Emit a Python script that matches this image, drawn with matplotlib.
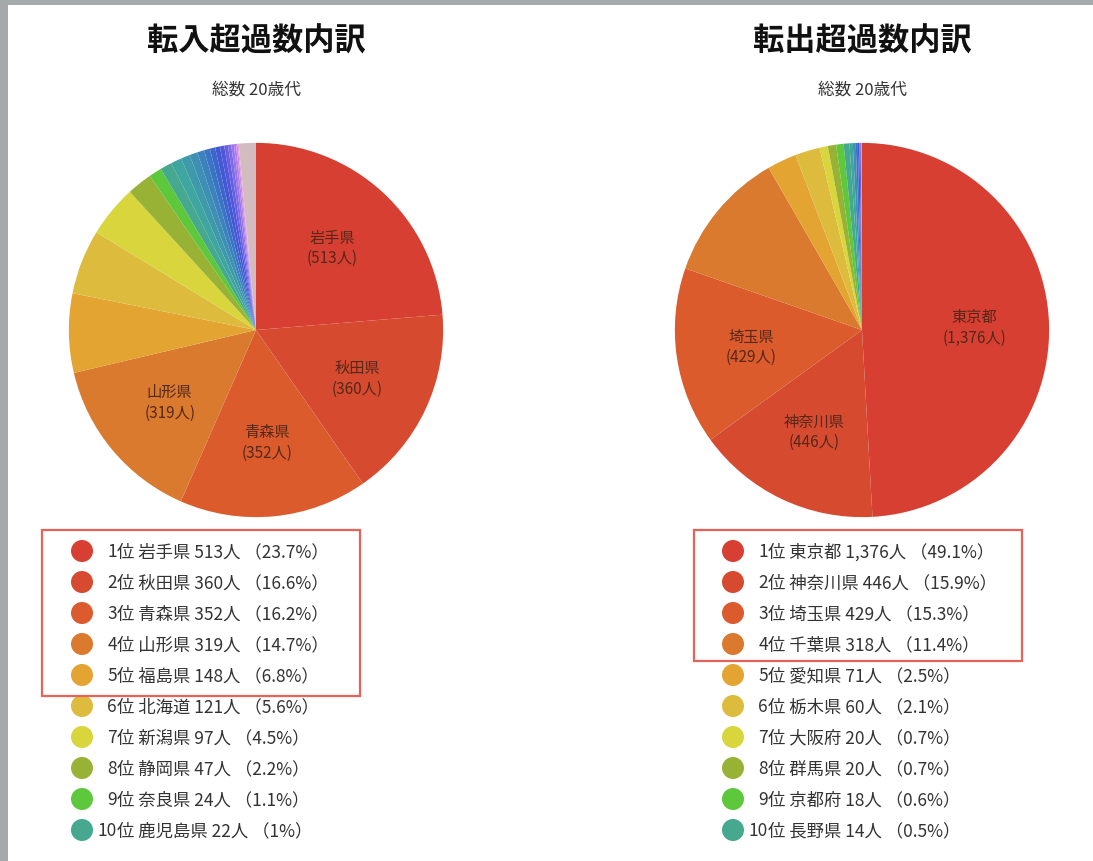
import matplotlib
matplotlib.use("Agg")
import matplotlib.pyplot as plt
from matplotlib.patches import Circle, Rectangle

plt.rcParams['font.family'] = ['Noto Sans CJK JP', 'DejaVu Sans']

W, H = 1093, 862

# 転入超過 (left)
in_names = ['岩手県', '秋田県', '青森県', '山形県', '福島県', '北海道', '新潟県', '静岡県', '奈良県', '鹿児島県']
in_values = [513, 360, 352, 319, 148, 121, 97, 47, 24, 22]
in_pcts = ['23.7%', '16.6%', '16.2%', '14.7%', '6.8%', '5.6%', '4.5%', '2.2%', '1.1%', '1%']
# smaller prefectures after 10th + grey remainder
in_rest = [20, 17, 15, 13, 11, 10, 9, 8, 7, 6, 5, 4, 3, 2, 32]

# 転出超過 (right)
out_names = ['東京都', '神奈川県', '埼玉県', '千葉県', '愛知県', '栃木県', '大阪府', '群馬県', '京都府', '長野県']
out_values = [1376, 446, 429, 318, 71, 60, 20, 20, 18, 14]
out_pcts = ['49.1%', '15.9%', '15.3%', '11.4%', '2.5%', '2.1%', '0.7%', '0.7%', '0.6%', '0.5%']
out_rest = [8, 7, 5, 4, 3, 2, 1]

top_colors = ['#d63f31', '#d64a30', '#db5b2d', '#d97a2f', '#e3a432', '#ddbc3d',
              '#d8d63c', '#98b236', '#5dc83b', '#46a88f']
in_rest_colors = ['#3fa59f', '#3e9aaa', '#3d8fb3', '#3c82bc', '#3b74c5', '#3d66cc', '#4358d3',
                  '#5156da', '#6660e0', '#7f6ae5', '#9a74e8', '#b57fea', '#cf8ae6', '#e29ade',
                  '#d3bcbf']
out_rest_colors = ['#3fa59f', '#3d8fb3', '#3b74c5', '#4358d3', '#6660e0', '#9a74e8', '#cf8ae6']

fig = plt.figure(figsize=(W / 100, H / 100), dpi=100)
fig.patch.set_facecolor('white')

# pixel-space overlay axes for texts, markers and boxes
bg = fig.add_axes([0, 0, 1, 1])
bg.set_xlim(0, W)
bg.set_ylim(H, 0)
bg.axis('off')

# grey screenshot border
bg.add_patch(Rectangle((0, 0), W, 6, color='#a6a9a9', lw=0))
bg.add_patch(Rectangle((0, 0), 8, H, color='#a6a9a9', lw=0))


def draw_panel(cx, title, names, values, pcts, rest, rest_colors, legend_x, box):
    r = 189
    cy = 331
    # titles
    bg.text(cx, 42, title, ha='center', va='center', fontsize=22.5, fontweight='bold', color='#111111')
    bg.text(cx, 90, '総数 20歳代', ha='center', va='center', fontsize=12, color='#333333')

    # pie
    ax = fig.add_axes([(cx - r) / W, 1 - (cy + r) / H, 2 * r / W, 2 * r / H])
    vals = values + rest
    cols = top_colors + rest_colors
    total = sum(vals)
    labels = [f'{n}\n({v:,}人)' if v / total > 0.12 else '' for n, v in zip(names, values)]
    labels += [''] * len(rest)
    _, texts = ax.pie(vals, colors=cols, startangle=90, counterclock=False, radius=1,
                      labels=labels, labeldistance=0.6,
                      wedgeprops=dict(linewidth=0),
                      textprops=dict(fontsize=11, color='#55281a', ha='center', va='center',
                                     linespacing=1.25))
    for t in texts:
        t.set_horizontalalignment('center')
    ax.set_xlim(-1.01, 1.01)
    ax.set_ylim(-1.01, 1.01)
    ax.set_aspect('equal')
    ax.axis('off')

    # legend
    for i, (n, v, p) in enumerate(zip(names, values, pcts)):
        y = 552 + i * 31
        bg.add_patch(Circle((legend_x, y), 11, color=top_colors[i], lw=0))
        bg.text(legend_x + 35, y, f'{i + 1}', ha='right', va='center', fontsize=12.5, color='#333333')
        bg.text(legend_x + 35, y, f'位 {n} {v:,}人 （{p}）', ha='left', va='center',
                fontsize=12.5, color='#333333')

    x0, y0, x1, y1 = box
    bg.add_patch(Rectangle((x0, y0), x1 - x0, y1 - y0, fill=False, edgecolor='#e8625a', lw=1.6))


draw_panel(256, '転入超過数内訳', in_names, in_values, in_pcts, in_rest, in_rest_colors,
           82, (42, 531, 360, 697))
draw_panel(862, '転出超過数内訳', out_names, out_values, out_pcts, out_rest, out_rest_colors,
           733, (694, 531, 1022, 662))

fig.savefig('out.png', dpi=100)
